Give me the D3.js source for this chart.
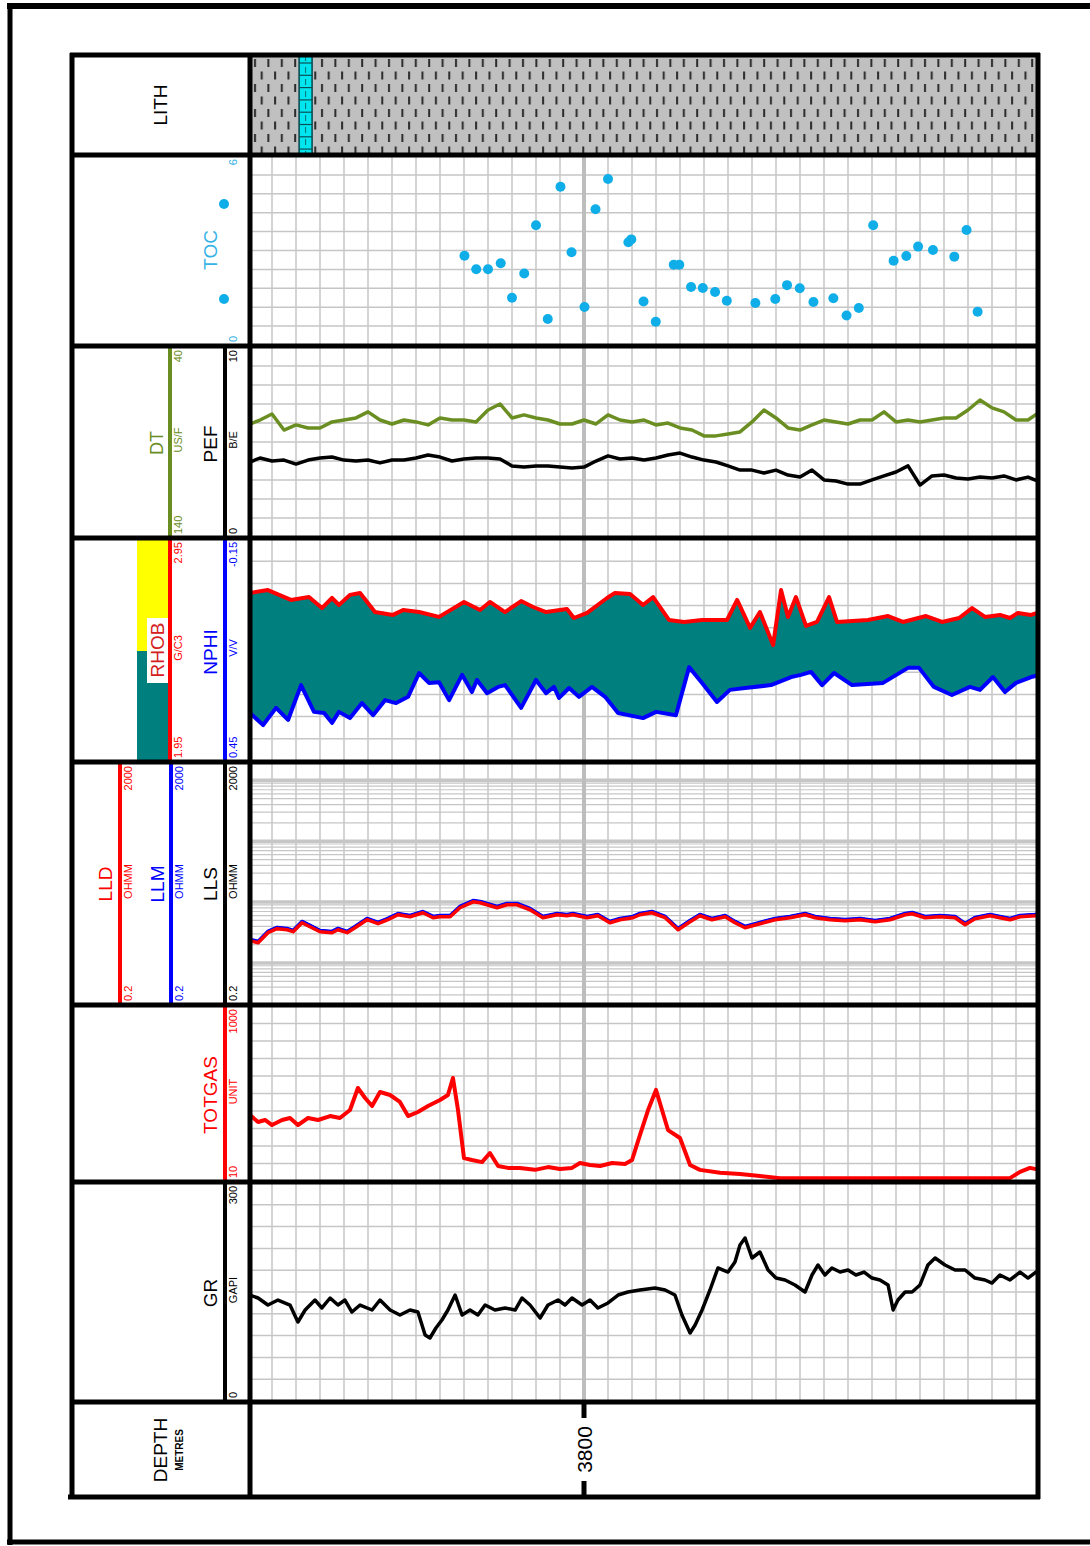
<!DOCTYPE html>
<meta charset="utf-8">
<style>
  body { margin: 0; background: #fff; }
  text { font-family: 'Liberation Sans Narrow', 'Liberation Sans', Arial, sans-serif; }
</style>
<body>
<script src="https://d3js.org/d3.v7.min.js"></script>
<script>
// ---------- data (depth in metres) ----------
var depthDomain = [3786, 3819];
var depthLabels = [3800];

// DT / PEF sampled every 0.5 m
var logDepth = [3786, 3786.5, 3787, 3787.5, 3788, 3788.5, 3789, 3789.5, 3790, 3790.5,
  3791, 3791.5, 3792, 3792.5, 3793, 3793.5, 3794, 3794.5, 3795, 3795.5,
  3796, 3796.5, 3797, 3797.5, 3798, 3798.5, 3799, 3799.5, 3800, 3800.5,
  3801, 3801.5, 3802, 3802.5, 3803, 3803.5, 3804, 3804.5, 3805, 3805.5,
  3806, 3806.5, 3807, 3807.5, 3808, 3808.5, 3809, 3809.5, 3810, 3810.5,
  3811, 3811.5, 3812, 3812.5, 3813, 3813.5, 3814, 3814.5, 3815, 3815.5,
  3816, 3816.5, 3817, 3817.5, 3818, 3818.5, 3819];
var dtValues = [80.7, 78.1, 74.9, 83.4, 80.7, 82.3, 82.3, 79.1, 78.1, 77.0,
  73.8, 78.1, 80.2, 78.1, 79.1, 80.7, 77.0, 78.1, 78.1, 79.1,
  72.8, 69.6, 77.0, 75.4, 77.0, 78.1, 80.2, 80.2, 78.1, 80.2,
  75.4, 78.1, 79.1, 78.1, 80.7, 79.7, 82.3, 83.4, 86.5, 86.5,
  85.5, 84.4, 79.1, 72.8, 77.0, 82.3, 83.4, 80.7, 78.1, 79.1,
  80.2, 78.1, 78.1, 73.8, 79.1, 78.1, 79.1, 78.1, 77.0, 77.0,
  72.8, 67.5, 71.7, 73.8, 78.1, 78.1, 73.8];
var pefValues = [3.92, 4.18, 4.02, 4.07, 3.86, 4.07, 4.18, 4.23, 4.07, 4.02,
  4.07, 3.92, 4.07, 4.07, 4.18, 4.34, 4.23, 4.02, 4.13, 4.18,
  4.18, 4.13, 3.76, 3.70, 3.76, 3.76, 3.70, 3.65, 3.70, 4.02,
  4.29, 4.13, 4.18, 4.07, 4.18, 4.34, 4.44, 4.23, 4.07, 3.97,
  3.76, 3.54, 3.54, 3.39, 3.54, 3.28, 3.17, 3.54, 3.02, 2.96,
  2.80, 2.80, 3.02, 3.23, 3.44, 3.76, 2.75, 3.23, 3.28, 3.12,
  3.07, 3.17, 3.12, 3.23, 3.02, 3.17, 2.91];

// TOC core points
var tocDepth = [3795.02, 3795.51, 3796.0, 3796.53, 3797.0, 3797.51, 3798.0, 3798.49, 3799.02, 3799.48,
  3800.02, 3800.48, 3801.0, 3801.85, 3801.97, 3802.48, 3802.99, 3803.74, 3803.97, 3804.46,
  3804.95, 3805.46, 3805.95, 3807.14, 3807.97, 3808.46, 3808.99, 3809.56, 3810.39, 3810.94,
  3811.45, 3812.05, 3812.9, 3813.43, 3813.92, 3814.54, 3815.43, 3815.94, 3816.4];
var tocValues = [2.85, 2.42, 2.42, 2.61, 1.51, 2.28, 3.82, 0.83, 5.05, 2.96,
  1.21, 4.33, 5.30, 3.28, 3.37, 1.39, 0.74, 2.56, 2.56, 1.85,
  1.82, 1.69, 1.41, 1.34, 1.47, 1.91, 1.81, 1.37, 1.49, 0.94,
  1.18, 3.82, 2.69, 2.84, 3.14, 3.03, 2.82, 3.67, 1.06];

// density / neutron [depth, value]
var rhobData = [[3786.08,2.714],[3786.83,2.727],[3787.79,2.682],[3788.54,2.695],[3789.08,2.645],[3789.5,2.691],
  [3789.79,2.659],[3790.25,2.705],[3790.67,2.714],[3791.29,2.627],[3792.04,2.614],[3792.46,2.636],[3793.13,2.627],
  [3793.96,2.605],[3795.0,2.673],[3795.67,2.636],[3796.08,2.673],[3796.71,2.627],[3797.38,2.677],[3797.88,2.65],
  [3798.42,2.627],[3799.29,2.641],[3799.58,2.6],[3800.13,2.623],[3800.96,2.691],[3801.29,2.714],[3801.92,2.709],
  [3802.46,2.659],[3802.88,2.695],[3803.54,2.591],[3804.17,2.582],[3804.92,2.591],[3805.96,2.591],[3806.38,2.682],
  [3806.92,2.555],[3807.33,2.627],[3807.88,2.477],[3808.21,2.727],[3808.5,2.605],[3808.83,2.695],[3809.25,2.564],
  [3809.71,2.582],[3810.21,2.695],[3810.54,2.582],[3811.83,2.591],[3812.67,2.609],[3813.29,2.582],[3814.25,2.609],
  [3814.92,2.582],[3815.63,2.6],[3816.17,2.645],[3816.71,2.605],[3817.33,2.614],[3817.75,2.6],[3818.08,2.623],
  [3818.63,2.614],[3819.0,2.627]];
var nphiData = [[3786.08,0.319],[3786.63,0.352],[3787.17,0.305],[3787.67,0.338],[3788.21,0.243],[3788.75,0.316],
  [3789.17,0.319],[3789.5,0.346],[3789.79,0.316],[3790.25,0.333],[3790.75,0.292],[3791.21,0.325],[3791.71,0.284],
  [3792.17,0.292],[3792.67,0.275],[3793.13,0.21],[3793.54,0.237],[3793.96,0.235],[3794.38,0.284],[3794.92,0.215],
  [3795.33,0.262],[3795.54,0.229],[3795.96,0.265],[3796.42,0.248],[3796.71,0.243],[3797.38,0.305],[3798.0,0.229],
  [3798.42,0.265],[3798.75,0.248],[3798.96,0.278],[3799.38,0.251],[3799.79,0.275],[3800.33,0.248],[3800.88,0.275],
  [3801.42,0.319],[3802.46,0.333],[3803.0,0.316],[3803.83,0.325],[3804.38,0.194],[3804.92,0.237],[3805.54,0.289],
  [3806.08,0.256],[3806.71,0.251],[3807.79,0.243],[3808.63,0.221],[3809.04,0.215],[3809.46,0.207],[3809.92,0.243],
  [3810.42,0.21],[3811.17,0.243],[3812.46,0.237],[3813.5,0.196],[3813.96,0.196],[3814.58,0.248],[3815.33,0.27],
  [3816.08,0.248],[3816.5,0.256],[3817.04,0.221],[3817.54,0.262],[3818.0,0.237],[3818.63,0.221],[3819.0,0.215]];

// resistivity
var resDepth = [3786.08, 3786.42, 3786.83, 3787.21, 3787.63, 3787.88, 3788.25, 3788.58, 3789.0, 3789.5,
  3789.75, 3790.13, 3790.46, 3790.96, 3791.42, 3791.83, 3792.25, 3792.75, 3793.29, 3793.71,
  3794.0, 3794.42, 3794.83, 3795.38, 3795.67, 3796.38, 3796.79, 3797.21, 3797.75, 3798.29,
  3798.88, 3799.29, 3799.54, 3800.13, 3800.58, 3801.08, 3801.5, 3802.04, 3802.33, 3802.83,
  3803.38, 3803.92, 3804.42, 3804.83, 3805.33, 3805.88, 3806.29, 3806.71, 3807.33, 3807.96,
  3808.58, 3809.21, 3809.63, 3810.25, 3810.88, 3811.5, 3812.13, 3812.75, 3813.38, 3813.67,
  3814.21, 3814.83, 3815.46, 3815.88, 3816.29, 3816.92, 3817.33, 3817.75, 3818.17, 3818.79, 3819.0];
var lldValues = [2.32, 2.15, 3.14, 3.65, 3.51, 3.26, 4.58, 3.94, 3.26, 3.14,
  3.51, 3.14, 3.79, 5.13, 4.41, 5.13, 6.19, 5.74, 6.68, 5.53,
  5.74, 5.74, 8.07, 10.1, 9.75, 8.07, 9.03, 9.03, 7.48, 5.53,
  6.19, 5.96, 6.19, 5.53, 5.96, 4.58, 5.13, 5.53, 6.19, 6.68,
  5.53, 3.51, 4.75, 5.96, 5.13, 5.74, 4.58, 3.79, 4.41, 5.13,
  5.53, 6.19, 5.53, 5.13, 4.94, 5.13, 4.75, 5.13, 6.19, 6.43,
  5.53, 5.74, 5.53, 4.25, 5.33, 5.96, 5.53, 5.13, 5.74, 5.96, 6.19];
var llmValues = [2.44, 2.26, 3.3, 3.83, 3.69, 3.42, 4.81, 4.14, 3.42, 3.3,
  3.69, 3.3, 3.98, 5.39, 4.63, 5.39, 6.5, 6.03, 7.01, 5.81,
  6.03, 6.03, 8.47, 10.6, 10.24, 8.47, 9.48, 9.48, 7.85, 5.81,
  6.5, 6.26, 6.5, 5.81, 6.26, 4.81, 5.39, 5.81, 6.5, 7.01,
  5.81, 3.69, 4.99, 6.26, 5.39, 6.03, 4.81, 3.98, 4.63, 5.39,
  5.81, 6.5, 5.81, 5.39, 5.19, 5.39, 4.99, 5.39, 6.5, 6.75,
  5.81, 6.03, 5.81, 4.46, 5.6, 6.26, 5.81, 5.39, 6.03, 6.26, 6.5];
var llsValues = [2.39, 2.21, 3.23, 3.76, 3.62, 3.36, 4.72, 4.06, 3.36, 3.23,
  3.62, 3.23, 3.9, 5.28, 4.54, 5.28, 6.38, 5.91, 6.88, 5.7,
  5.91, 5.91, 8.31, 10.4, 10.04, 8.31, 9.3, 9.3, 7.7, 5.7,
  6.38, 6.14, 6.38, 5.7, 6.14, 4.72, 5.28, 5.7, 6.38, 6.88,
  5.7, 3.62, 4.89, 6.14, 5.28, 5.91, 4.72, 3.9, 4.54, 5.28,
  5.7, 6.38, 5.7, 5.28, 5.09, 5.28, 4.89, 5.28, 6.38, 6.62,
  5.7, 5.91, 5.7, 4.38, 5.49, 6.14, 5.7, 5.28, 5.91, 6.14, 6.38];

// total gas [depth, units]
var gasData = [[3786.08,56.4],[3786.42,46.8],[3786.71,49.4],[3787.0,43.2],[3787.42,49.4],[3787.75,52.1],
  [3788.08,43.2],[3788.5,52.1],[3788.92,49.4],[3789.42,54.9],[3789.83,52.1],[3790.25,64.4],[3790.58,115.8],
  [3790.88,88.7],[3791.17,71.6],[3791.5,104],[3791.92,96.1],[3792.33,79.8],[3792.67,54.9],[3793.08,61.1],
  [3793.5,71.6],[3794.0,84.1],[3794.33,96.1],[3794.54,151],[3794.75,64.4],[3795.0,17.9],[3795.33,17.0],
  [3795.75,16.1],[3796.08,20.5],[3796.42,14.5],[3796.83,13.8],[3797.33,13.8],[3797.96,13.1],[3798.5,14.1],
  [3799.0,13.4],[3799.5,13.8],[3799.83,15.7],[3800.25,14.9],[3800.67,14.5],[3801.17,15.7],[3801.71,15.3],
  [3802.0,17.0],[3802.33,33.1],[3802.67,64.4],[3803.0,110],[3803.25,64.4],[3803.5,37.8],[3804.0,30.6],
  [3804.42,14.9],[3804.83,13.1],[3805.67,12.1],[3806.5,11.7],[3807.33,11.1],[3808.17,10.5],[3809.0,10.5],
  [3809.83,10.5],[3813.17,10.5],[3816.5,10.5],[3817.75,10.5],[3818.17,12.4],[3818.58,13.8],[3819.0,13.1]];

// gamma ray [depth, gAPI]
var grData = [[3786.08,146.5],[3786.42,142.4],[3786.83,132.7],[3787.25,139.6],[3787.75,132.7],[3788.08,109.2],
  [3788.38,125.8],[3788.79,139.6],[3789.08,128.6],[3789.42,142.4],[3789.75,132.7],[3790.04,139.6],[3790.33,123.0],
  [3790.67,132.7],[3791.17,125.8],[3791.5,139.6],[3791.92,125.8],[3792.33,118.9],[3792.75,125.8],[3793.08,123.0],
  [3793.38,91.2],[3793.58,87.1],[3793.83,100.9],[3794.08,112.0],[3794.33,125.8],[3794.63,146.5],[3794.92,118.9],
  [3795.25,125.8],[3795.58,118.9],[3795.88,132.7],[3796.29,125.8],[3796.71,128.6],[3797.13,125.8],[3797.42,142.4],
  [3797.75,132.7],[3798.17,114.7],[3798.5,132.7],[3798.92,139.6],[3799.21,132.7],[3799.5,142.4],[3799.92,132.7],
  [3800.25,139.6],[3800.58,128.6],[3801.0,135.5],[3801.42,146.5],[3801.83,150.7],[3802.33,153.5],[3802.96,156.2],
  [3803.38,153.5],[3803.79,146.5],[3804.08,118.9],[3804.42,94.0],[3804.63,105.1],[3804.92,125.8],[3805.25,153.5],
  [3805.58,183.9],[3806.0,178.3],[3806.29,192.2],[3806.5,215.7],[3806.71,225.3],[3807.0,197.7],[3807.33,206.0],
  [3807.67,181.1],[3808.0,170.0],[3808.38,167.3],[3808.79,160.4],[3809.21,150.7],[3809.5,174.2],[3809.75,188.0],
  [3810.04,174.2],[3810.33,183.9],[3810.67,178.3],[3811.0,181.1],[3811.33,174.2],[3811.67,178.3],[3812.0,170.0],
  [3812.33,167.3],[3812.67,160.4],[3812.88,125.8],[3813.08,139.6],[3813.38,150.7],[3813.67,150.7],[3814.0,160.4],
  [3814.33,188.0],[3814.63,197.7],[3815.04,188.0],[3815.46,181.1],[3815.88,181.1],[3816.29,170.0],[3816.71,167.3],
  [3817.0,163.1],[3817.33,174.2],[3817.75,167.3],[3818.17,178.3],[3818.5,170.0],[3818.83,178.3],[3819.0,178.3]];

// lithology beds
var lithBeds = [{top: 3786, base: 3819, rock: 'shale'}, {top: 3788.13, base: 3788.67, rock: 'limestone'}];

// ---------- layout ----------
var hx0 = 72, dx0 = 250, dx1 = 1038;
var rows = {lith: [55, 155], toc: [155, 346], dt: [346, 538], den: [538, 762],
            res: [762, 1005], gas: [1005, 1182], gr: [1182, 1402], depth: [1402, 1497]};

var svg = d3.select('body').append('svg')
    .attr('width', 1090).attr('height', 1546);

var x = d3.scaleLinear().domain(depthDomain).range([248, 1040]);

var yToc = d3.scaleLinear().domain([0, 6]).range([345, 157]);
var yDt = d3.scaleLinear().domain([140, 40]).range([537, 348]);
var yPef = d3.scaleLinear().domain([0, 10]).range([537, 348]);
var yRhob = d3.scaleLinear().domain([1.95, 2.95]).range([761, 541]);
var yNphi = d3.scaleLinear().domain([0.45, -0.15]).range([761, 541]);
var yRes = d3.scaleLog().domain([0.2, 2000]).range([1005.5, 762]);
var yGas = d3.scaleLog().domain([10, 1000]).range([1180, 1007]);
var yGr = d3.scaleLinear().domain([0, 300]).range([1401, 1184]);

var gridCol = '#c6c6c6';

// clip for the data area
var defs = svg.append('defs');
Object.keys(rows).forEach(function (k) {
  defs.append('clipPath').attr('id', 'clip-' + k)
    .append('rect').attr('x', dx0).attr('y', rows[k][0])
    .attr('width', dx1 - dx0).attr('height', rows[k][1] - rows[k][0]);
});

// lith pattern
var pat = defs.append('pattern').attr('id', 'shale')
    .attr('patternUnits', 'userSpaceOnUse').attr('width', 13.4).attr('height', 25)
    .attr('x', dx0 + 2).attr('y', 57);
pat.append('rect').attr('width', 13.4).attr('height', 25).attr('fill', '#c0c0c0');
pat.append('line').attr('x1', 3).attr('x2', 3).attr('y1', 2).attr('y2', 10)
    .attr('stroke', '#2b2b2b').attr('stroke-width', 2);
pat.append('line').attr('x1', 9.7).attr('x2', 9.7).attr('y1', 14.5).attr('y2', 22.5)
    .attr('stroke', '#2b2b2b').attr('stroke-width', 2);

// ---------- grid ----------
var grid = svg.append('g');
var depthTicks = x.ticks(33);
['toc', 'dt', 'den', 'res', 'gas', 'gr'].forEach(function (k) {
  var g = grid.append('g').attr('clip-path', 'url(#clip-' + k + ')');
  var top = rows[k][0], bot = rows[k][1];
  if (k === 'res') {
    yRes.ticks().forEach(function (v) {
      var major = Math.abs(Math.log10(v) - Math.round(Math.log10(v))) < 1e-6;
      g.append('line').attr('x1', dx0).attr('x2', dx1)
        .attr('y1', yRes(v)).attr('y2', yRes(v))
        .attr('stroke', gridCol).attr('stroke-width', major ? 3.5 : 1.2);
    });
  } else {
    var gs = d3.scaleLinear().domain([0, 10]).range([bot - 1, top + 1]);
    d3.range(1, 10).forEach(function (i) {
      g.append('line').attr('x1', dx0).attr('x2', dx1)
        .attr('y1', gs(i)).attr('y2', gs(i))
        .attr('stroke', gridCol).attr('stroke-width', 1.5);
    });
  }
  g.selectAll('line.v').data(depthTicks).enter().append('line')
    .attr('x1', function (d) { return x(d); }).attr('x2', function (d) { return x(d); })
    .attr('y1', top).attr('y2', bot)
    .attr('stroke', function (d) { return depthLabels.indexOf(d) >= 0 ? '#bdbdbd' : gridCol; })
    .attr('stroke-width', function (d) { return depthLabels.indexOf(d) >= 0 ? 4 : 1.5; });
});

// ---------- lith ----------
var lg = svg.append('g').attr('clip-path', 'url(#clip-lith)');
lithBeds.forEach(function (b) {
  var r = lg.append('rect').attr('x', x(b.top)).attr('width', x(b.base) - x(b.top))
    .attr('y', rows.lith[0]).attr('height', rows.lith[1] - rows.lith[0]);
  if (b.rock === 'shale') {
    r.attr('fill', 'url(#shale)');
  } else {
    r.attr('fill', '#00e5ee').attr('stroke', '#0a4f55').attr('stroke-width', 1.6);
    d3.range(rows.lith[0] + 8, rows.lith[1], 12.3).forEach(function (yy) {
      lg.append('line').attr('x1', x(b.top)).attr('x2', x(b.base))
        .attr('y1', yy).attr('y2', yy).attr('stroke', '#0a4f55').attr('stroke-width', 1.2);
    });
    lg.append('line').attr('x1', (x(b.top) + x(b.base)) / 2).attr('x2', (x(b.top) + x(b.base)) / 2)
      .attr('y1', rows.lith[0]).attr('y2', rows.lith[1])
      .attr('stroke', '#0a4f55').attr('stroke-width', 0.8).attr('stroke-dasharray', '6,6');
  }
});

// ---------- curves ----------
function drawLine(k, data, xf, yf, color, w) {
  svg.append('g').attr('clip-path', 'url(#clip-' + k + ')')
    .append('path').datum(data)
    .attr('d', d3.line().x(xf).y(yf))
    .attr('fill', 'none').attr('stroke', color).attr('stroke-width', w)
    .attr('stroke-linejoin', 'round');
}

// TOC points
svg.append('g').attr('clip-path', 'url(#clip-toc)')
  .selectAll('circle').data(tocDepth).enter().append('circle')
  .attr('cx', function (d) { return x(d); })
  .attr('cy', function (d, i) { return yToc(tocValues[i]); })
  .attr('r', 5).attr('fill', '#10aee8');

// DT / PEF
drawLine('dt', logDepth, function (d) { return x(d); }, function (d, i) { return yDt(dtValues[i]); }, '#6b8e23', 3.5);
drawLine('dt', logDepth, function (d) { return x(d); }, function (d, i) { return yPef(pefValues[i]); }, '#000', 3.5);

// density-neutron fill
var fillPts = rhobData.map(function (p) { return [x(p[0]), yRhob(p[1])]; })
  .concat(nphiData.slice().reverse().map(function (p) { return [x(p[0]), yNphi(p[1])]; }));
svg.append('g').attr('clip-path', 'url(#clip-den)')
  .append('path').attr('d', d3.line()(fillPts) + 'Z').attr('fill', '#007f7f');
drawLine('den', rhobData, function (p) { return x(p[0]); }, function (p) { return yRhob(p[1]); }, '#ff0000', 4);
drawLine('den', nphiData, function (p) { return x(p[0]); }, function (p) { return yNphi(p[1]); }, '#0000ff', 4);

// resistivity
drawLine('res', resDepth, function (d) { return x(d); }, function (d, i) { return yRes(llsValues[i]); }, '#000', 3.5);
drawLine('res', resDepth, function (d) { return x(d); }, function (d, i) { return yRes(llmValues[i]); }, '#0000ff', 3.5);
drawLine('res', resDepth, function (d) { return x(d); }, function (d, i) { return yRes(lldValues[i]); }, '#ff0000', 3.5);

// gas, gr
drawLine('gas', gasData, function (p) { return x(p[0]); }, function (p) { return yGas(p[1]); }, '#ff0000', 4);
drawLine('gr', grData, function (p) { return x(p[0]); }, function (p) { return yGr(p[1]); }, '#000', 3.5);

// ---------- depth track ----------
depthLabels.forEach(function (d) {
  svg.append('line').attr('x1', x(d)).attr('x2', x(d)).attr('y1', rows.depth[0]).attr('y2', rows.depth[0] + 16)
    .attr('stroke', '#000').attr('stroke-width', 5);
  svg.append('line').attr('x1', x(d)).attr('x2', x(d)).attr('y1', rows.depth[1] - 16).attr('y2', rows.depth[1])
    .attr('stroke', '#000').attr('stroke-width', 5);
  vtext(x(d), (rows.depth[0] + rows.depth[1]) / 2, String(d), 21, '#000', 'middle')
    .style('font-family', "'Liberation Sans', sans-serif");
});

// ---------- header ----------
function vtext(cx, cy, str, size, color, anchor) {
  return svg.append('text')
    .attr('transform', 'translate(' + cx + ',' + cy + ') rotate(-90)')
    .attr('text-anchor', anchor || 'middle')
    .attr('dominant-baseline', 'central')
    .attr('font-size', size).attr('fill', color).text(str);
}

function scaleBar(bx, row, lo, hi, unit, color, lineColor) {
  var top = rows[row][0], bot = rows[row][1];
  if (lineColor) {
    svg.append('line').attr('x1', bx).attr('x2', bx).attr('y1', top).attr('y2', bot)
      .attr('stroke', lineColor).attr('stroke-width', 4);
  }
  vtext(bx + 8, top + 4, hi, 11, color, 'end');
  vtext(bx + 8, bot - 4, lo, 11, color, 'start');
  if (unit) vtext(bx + 8, (top + bot) / 2 - 2, unit, 11, color, 'middle');
}

vtext(160, 105, 'LITH', 19, '#000');

vtext(210, 250, 'TOC', 19, '#35b3e6');
scaleBar(225, 'toc', '0', '6', null, '#35b3e6', null);
svg.append('circle').attr('cx', 224).attr('cy', 204).attr('r', 5).attr('fill', '#10aee8');
svg.append('circle').attr('cx', 224).attr('cy', 299).attr('r', 5).attr('fill', '#10aee8');

vtext(157, 443, 'DT', 18, '#6b8e23');
scaleBar(170, 'dt', '140', '40', 'US/F', '#6b8e23', '#6b8e23');
vtext(210, 444, 'PEF', 19, '#000');
scaleBar(225, 'dt', '0', '10', 'B/E', '#000', '#000');

svg.append('rect').attr('x', 137).attr('y', 540).attr('width', 31).attr('height', 111).attr('fill', '#ffff00');
svg.append('rect').attr('x', 137).attr('y', 651).attr('width', 31).attr('height', 110).attr('fill', '#007f7f');
svg.append('rect').attr('x', 147).attr('y', 618).attr('width', 21).attr('height', 65).attr('fill', '#fff');
scaleBar(170, 'den', '1.95', '2.95', 'G/C3', '#ff0000', '#ff0000');
vtext(157, 650, 'RHOB', 19, '#d42020');
vtext(210, 652, 'NPHI', 19, '#0000ff');
scaleBar(225, 'den', '0.45', '-0.15', 'V/V', '#0000ff', '#0000ff');

scaleBar(120, 'res', '0.2', '2000', 'OHMM', '#ff0000', '#ff0000');
vtext(105, 884, 'LLD', 19, '#ff0000');
scaleBar(171, 'res', '0.2', '2000', 'OHMM', '#0000ff', '#0000ff');
vtext(157, 884, 'LLM', 19, '#0000ff');
scaleBar(225, 'res', '0.2', '2000', 'OHMM', '#000', '#000');
vtext(210, 884, 'LLS', 19, '#000');

scaleBar(225, 'gas', '10', '1000', 'UNIT', '#ff0000', '#ff0000');
vtext(210, 1095, 'TOTGAS', 19, '#ff0000');

scaleBar(225, 'gr', '0', '300', 'GAPI', '#000', '#000');
vtext(210, 1293, 'GR', 19, '#000');

vtext(160, 1450, 'DEPTH', 19, '#000');
vtext(179, 1450, 'METRES', 10, '#000').attr('font-weight', 'bold');

// ---------- frames ----------
var frame = svg.append('g').attr('stroke', '#000').attr('fill', 'none');
Object.keys(rows).forEach(function (k) {
  frame.append('line').attr('x1', hx0 - 2).attr('x2', dx1 + 2)
    .attr('y1', rows[k][0]).attr('y2', rows[k][0]).attr('stroke-width', 5);
});
frame.append('line').attr('x1', hx0 - 4).attr('x2', dx1 + 2)
  .attr('y1', rows.depth[1]).attr('y2', rows.depth[1]).attr('stroke-width', 5);
[hx0, dx0, dx1].forEach(function (xx) {
  frame.append('line').attr('x1', xx).attr('x2', xx)
    .attr('y1', rows.lith[0] - 2).attr('y2', rows.depth[1] + 2).attr('stroke-width', 5);
});
// outer page border
frame.append('line').attr('x1', 7).attr('x2', 1090).attr('y1', 6).attr('y2', 6).attr('stroke-width', 6);
frame.append('line').attr('x1', 10).attr('x2', 10).attr('y1', 4).attr('y2', 1545).attr('stroke-width', 5);
frame.append('line').attr('x1', 7).attr('x2', 1090).attr('y1', 1542).attr('y2', 1542).attr('stroke-width', 5);
</script>
</body>
</html>
